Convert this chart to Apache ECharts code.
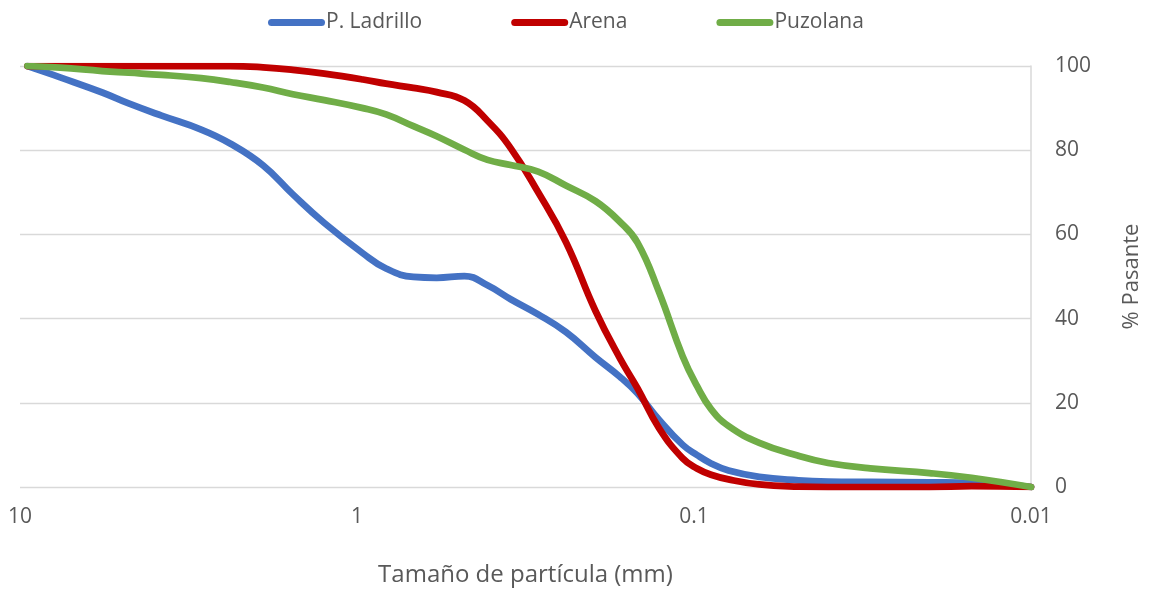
<!DOCTYPE html>
<html>
<head>
<meta charset="utf-8">
<title>Curva granulométrica</title>
<script src="https://cdn.jsdelivr.net/npm/echarts@6/dist/echarts.min.js"></script>
<style>
  html, body { margin: 0; padding: 0; background: #ffffff; }
  #chart { width: 1151px; height: 592px; }
</style>
</head>
<body>
<div id="chart"></div>
<script>
// Particle sizes (mm) and % passing for each material
const sizes = [9.5, 7.6, 5.7, 4.76, 3.8, 2.9, 2.38, 1.9, 1.55, 1.25, 0.96, 0.82, 0.68, 0.58, 0.48, 0.41, 0.35, 0.29, 0.24, 0.196, 0.166, 0.147, 0.127, 0.108, 0.098, 0.089, 0.079, 0.064, 0.049, 0.04, 0.03, 0.02, 0.015, 0.01];
const ladrillo = [100, 97.3, 93.7, 91.1, 88.2, 84.9, 81.6, 76.4, 69.5, 62.7, 55.5, 51.9, 49.9, 49.7, 50.1, 47.9, 44.6, 41, 36.8, 30.8, 26.2, 22.2, 16, 10, 7.6, 5.6, 3.9, 2.4, 1.6, 1.3, 1.2, 1.1, 1.0, 0];
const arena    = [100, 100, 100, 100, 100, 100, 100, 99.7, 99.1, 98.2, 96.8, 95.8, 94.8, 93.8, 91.8, 87, 80.5, 70, 58.2, 41.8, 30.6, 23.4, 14, 6.8, 4.4, 2.9, 1.8, 0.6, 0.1, 0, 0, 0, 0.2, 0];
const puzolana = [100, 99.6, 98.8, 98.4, 97.9, 97.1, 96.2, 94.9, 93.3, 91.9, 90, 88.5, 85.7, 83.3, 80.1, 77.7, 76.5, 74.9, 71.6, 67.9, 63, 58, 46.3, 31, 24, 18.5, 14.5, 10.5, 7.4, 5.7, 4.4, 3.3, 2.2, 0];

const seriesNames = ['P. Ladrillo', 'Arena', 'Puzolana'];
const seriesColors = ['#4472C4', '#C00000', '#70AD47'];
const xTickLabels = { '1': '10', '0': '1', '-1': '0.1', '-2': '0.01' };
const yTicks = [0, 20, 40, 60, 80, 100];

const textColor = '#595959';
const gridColor = '#D9D9D9';
const font = '"Open Sans", "Noto Sans", sans-serif';

function pairs(values) {
  return sizes.map((s, i) => [s, values[i]]);
}

const chart = echarts.init(document.getElementById('chart'), null, { renderer: 'canvas' });

// Capsule-shaped legend key, same proportions as the legend box
const capsule = 'path://M3.5,0 H53.5 A3.5,3.5 0 0 1 53.5,7 H3.5 A3.5,3.5 0 0 1 3.5,0 Z';

chart.setOption({
  backgroundColor: '#ffffff',
  animation: false,
  textStyle: { fontFamily: font },
  legend: {
    left: 263,
    top: 7,
    itemWidth: 57,
    itemHeight: 7,
    itemGap: 89,
    icon: capsule,
    textStyle: { color: textColor, fontSize: 21, fontFamily: font, padding: [0, 0, 0, -4] },
    data: seriesNames
  },
  grid: { left: 20, right: 118, top: 66, bottom: 104 },
  xAxis: {
    type: 'log',
    logBase: 10,
    min: 0.01,
    max: 10,
    inverse: true,
    name: 'Tamaño de partícula (mm)',
    nameLocation: 'middle',
    nameGap: 76,
    nameTextStyle: { color: textColor, fontSize: 24, fontFamily: font },
    axisLine: { show: false },
    axisTick: { show: false },
    splitLine: { show: false },
    axisLabel: {
      color: textColor,
      fontSize: 21,
      fontFamily: font,
      margin: 20,
      formatter: function (v) {
        const e = Math.round(Math.log10(v));
        return xTickLabels[String(e)] !== undefined ? xTickLabels[String(e)] : '';
      }
    }
  },
  yAxis: {
    type: 'value',
    position: 'right',
    min: yTicks[0],
    max: yTicks[yTicks.length - 1],
    interval: 20,
    name: '% Pasante',
    nameLocation: 'middle',
    nameRotate: 90,
    nameGap: 90,
    nameTextStyle: { color: textColor, fontSize: 22, fontFamily: font },
    axisLine: { show: true, lineStyle: { color: gridColor, width: 1.5 } },
    axisTick: { show: false },
    splitLine: { show: true, lineStyle: { color: gridColor, width: 1.3 } },
    axisLabel: { color: textColor, fontSize: 21, fontFamily: font, margin: 24 }
  },
  series: seriesNames.map((name, i) => ({
    name: name,
    type: 'line',
    data: pairs([ladrillo, arena, puzolana][i]),
    smooth: 0.45,
    showSymbol: false,
    symbol: 'none',
    color: seriesColors[i],
    lineStyle: { color: seriesColors[i], width: 6.75, cap: 'round', join: 'round' },
    emphasis: { disabled: true }
  }))
});
</script>
</body>
</html>
